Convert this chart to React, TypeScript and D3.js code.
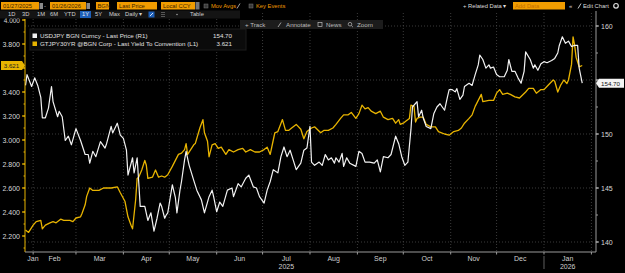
import React from 'react';
import * as d3 from 'd3';

// USDJPY (right axis)
const usdDates = [
  '2025-01-27', '2025-01-28', '2025-01-31', '2025-02-02', '2025-02-04', '2025-02-06', '2025-02-07', '2025-02-09',
  '2025-02-11', '2025-02-13', '2025-02-14', '2025-02-17', '2025-02-18', '2025-02-20', '2025-02-22', '2025-02-24',
  '2025-02-26', '2025-03-01', '2025-03-04', '2025-03-07', '2025-03-09', '2025-03-10', '2025-03-12', '2025-03-14',
  '2025-03-17', '2025-03-20', '2025-03-21', '2025-03-24', '2025-03-25', '2025-03-28', '2025-03-30', '2025-04-01',
  '2025-04-03', '2025-04-04', '2025-04-07', '2025-04-08', '2025-04-10', '2025-04-11', '2025-04-12', '2025-04-15',
  '2025-04-17', '2025-04-19', '2025-04-21', '2025-04-23', '2025-04-25', '2025-04-26', '2025-04-28', '2025-04-29',
  '2025-04-30', '2025-05-03', '2025-05-05', '2025-05-06', '2025-05-08', '2025-05-09', '2025-05-11', '2025-05-12',
  '2025-05-14', '2025-05-17', '2025-05-19', '2025-05-22', '2025-05-24', '2025-05-27', '2025-05-29', '2025-05-30',
  '2025-06-01', '2025-06-03', '2025-06-05', '2025-06-08', '2025-06-11', '2025-06-12', '2025-06-15', '2025-06-17',
  '2025-06-20', '2025-06-22', '2025-06-25', '2025-06-27', '2025-06-29', '2025-07-02', '2025-07-04', '2025-07-06',
  '2025-07-08', '2025-07-11', '2025-07-13', '2025-07-15', '2025-07-17', '2025-07-19', '2025-07-21', '2025-07-23',
  '2025-07-26', '2025-07-28', '2025-07-30', '2025-08-01', '2025-08-02', '2025-08-04', '2025-08-07', '2025-08-09',
  '2025-08-11', '2025-08-13', '2025-08-15', '2025-08-17', '2025-08-18', '2025-08-20', '2025-08-22', '2025-08-23',
  '2025-08-25', '2025-08-27', '2025-08-31', '2025-09-02', '2025-09-04', '2025-09-06', '2025-09-09', '2025-09-12',
  '2025-09-14', '2025-09-16', '2025-09-18', '2025-09-21', '2025-09-23', '2025-09-26', '2025-09-28', '2025-09-30',
  '2025-10-02', '2025-10-04', '2025-10-06', '2025-10-07', '2025-10-10', '2025-10-11', '2025-10-13', '2025-10-14',
  '2025-10-16', '2025-10-19', '2025-10-21', '2025-10-23', '2025-10-25', '2025-10-28', '2025-10-30', '2025-10-31',
  '2025-11-02', '2025-11-04', '2025-11-05', '2025-11-07', '2025-11-09', '2025-11-10', '2025-11-13', '2025-11-15',
  '2025-11-17', '2025-11-19', '2025-11-20', '2025-11-22', '2025-11-24', '2025-11-26', '2025-11-27', '2025-11-29',
  '2025-12-01', '2025-12-03', '2025-12-06', '2025-12-08', '2025-12-09', '2025-12-11', '2025-12-13', '2025-12-15',
  '2025-12-17', '2025-12-19', '2025-12-20', '2025-12-23', '2025-12-25', '2025-12-26', '2025-12-28', '2025-12-30',
  '2026-01-01', '2026-01-03', '2026-01-06', '2026-01-08', '2026-01-10', '2026-01-11', '2026-01-13', '2026-01-15',
  '2026-01-17', '2026-01-19', '2026-01-21', '2026-01-23', '2026-01-24', '2026-01-26',
];
const usdPrice = [
  154.5, 155.5, 154.4, 155.2, 154.5, 153.4, 151.5, 151.5,
  152.4, 154.4, 153.0, 151.6, 152.1, 151.6, 149.4, 149.8,
  149.0, 150.5, 149.4, 148.1, 148.1, 147.3, 148.4, 147.9,
  149.3, 148.7, 149.1, 150.7, 150.1, 151.0, 149.9, 149.6,
  148.5, 146.2, 147.8, 146.4, 147.8, 145.6, 143.3, 143.3,
  142.0, 142.7, 141.0, 142.2, 143.6, 143.3, 142.2, 142.5,
  142.7, 145.3, 144.1, 142.7, 144.8, 145.6, 147.6, 148.4,
  147.1, 145.7, 144.8, 143.9, 142.7, 144.2, 144.8, 144.2,
  142.8, 143.7, 143.3, 144.8, 145.0, 144.2, 145.4, 145.1,
  145.9, 146.2, 145.1, 145.0, 144.2, 143.6, 144.8, 145.6,
  146.7, 146.4, 147.9, 148.8, 147.9, 148.5, 147.6, 146.7,
  147.3, 148.5, 148.7, 150.7, 147.4, 147.1, 147.4, 147.1,
  148.1, 147.6, 147.8, 147.3, 147.8, 147.4, 148.2, 147.0,
  147.8, 147.3, 147.0, 148.4, 148.2, 147.4, 147.4, 147.3,
  147.6, 146.5, 147.9, 147.8, 148.1, 149.8, 149.1, 147.9,
  147.1, 147.4, 150.4, 152.5, 153.0, 151.6, 152.2, 151.5,
  150.7, 150.5, 151.9, 152.5, 152.8, 152.2, 153.5, 154.1,
  154.1, 153.9, 154.2, 153.2, 153.6, 154.4, 154.7, 154.5,
  155.5, 156.4, 157.3, 156.9, 156.1, 156.4, 156.1, 156.2,
  155.5, 155.3, 155.3, 155.9, 156.9, 155.8, 155.8, 155.2,
  154.7, 155.8, 157.6, 156.9, 156.1, 156.4, 155.9, 156.5,
  156.7, 156.6, 156.8, 157.0, 157.5, 158.2, 159.0, 158.4,
  158.6, 158.1, 158.2, 158.2, 156.1, 154.7,
];

// JGB 30Y yield (left axis)
const jgbDates = [
  '2025-01-27', '2025-01-29', '2025-02-01', '2025-02-03', '2025-02-06', '2025-02-07', '2025-02-09', '2025-02-12',
  '2025-02-14', '2025-02-16', '2025-02-19', '2025-02-21', '2025-02-23', '2025-02-25', '2025-02-27', '2025-03-01',
  '2025-03-04', '2025-03-05', '2025-03-07', '2025-03-08', '2025-03-10', '2025-03-12', '2025-03-16', '2025-03-19',
  '2025-03-22', '2025-03-24', '2025-03-28', '2025-03-30', '2025-04-02', '2025-04-04', '2025-04-06', '2025-04-07',
  '2025-04-09', '2025-04-10', '2025-04-11', '2025-04-13', '2025-04-15', '2025-04-16', '2025-04-17', '2025-04-20',
  '2025-04-22', '2025-04-24', '2025-04-26', '2025-04-28', '2025-04-30', '2025-05-03', '2025-05-05', '2025-05-07',
  '2025-05-09', '2025-05-11', '2025-05-12', '2025-05-13', '2025-05-15', '2025-05-17', '2025-05-18', '2025-05-21',
  '2025-05-23', '2025-05-24', '2025-05-26', '2025-05-27', '2025-05-29', '2025-05-31', '2025-06-02', '2025-06-04',
  '2025-06-05', '2025-06-07', '2025-06-09', '2025-06-12', '2025-06-15', '2025-06-18', '2025-06-20', '2025-06-23',
  '2025-06-26', '2025-06-29', '2025-07-02', '2025-07-04', '2025-07-06', '2025-07-08', '2025-07-09', '2025-07-11',
  '2025-07-14', '2025-07-16', '2025-07-18', '2025-07-20', '2025-07-23', '2025-07-26', '2025-07-28', '2025-07-30',
  '2025-08-02', '2025-08-04', '2025-08-08', '2025-08-10', '2025-08-13', '2025-08-16', '2025-08-18', '2025-08-21',
  '2025-08-23', '2025-08-26', '2025-08-28', '2025-08-31', '2025-09-02', '2025-09-04', '2025-09-06', '2025-09-08',
  '2025-09-10', '2025-09-13', '2025-09-16', '2025-09-18', '2025-09-21', '2025-09-24', '2025-09-26', '2025-09-28',
  '2025-09-29', '2025-10-01', '2025-10-03', '2025-10-05', '2025-10-06', '2025-10-08', '2025-10-09', '2025-10-10',
  '2025-10-12', '2025-10-14', '2025-10-16', '2025-10-19', '2025-10-22', '2025-10-24', '2025-10-26', '2025-10-28',
  '2025-10-31', '2025-11-03', '2025-11-06', '2025-11-08', '2025-11-10', '2025-11-13', '2025-11-15', '2025-11-17',
  '2025-11-19', '2025-11-21', '2025-11-22', '2025-11-26', '2025-11-29', '2025-12-01', '2025-12-03', '2025-12-05',
  '2025-12-08', '2025-12-10', '2025-12-13', '2025-12-16', '2025-12-20', '2025-12-22', '2025-12-25', '2025-12-27',
  '2025-12-30', '2026-01-01', '2026-01-04', '2026-01-07', '2026-01-08', '2026-01-10', '2026-01-12', '2026-01-14',
  '2026-01-16', '2026-01-17', '2026-01-19', '2026-01-20', '2026-01-21', '2026-01-22', '2026-01-24', '2026-01-26',
];
const jgbYield = [
  2.25, 2.23, 2.29, 2.32, 2.33, 2.26, 2.29, 2.31,
  2.32, 2.31, 2.34, 2.33, 2.33, 2.33, 2.32, 2.35,
  2.36, 2.39, 2.46, 2.53, 2.60, 2.58, 2.58, 2.60,
  2.60, 2.60, 2.61, 2.56, 2.49, 2.36, 2.29, 2.26,
  2.50, 2.68, 2.69, 2.75, 2.83, 2.79, 2.68, 2.69,
  2.75, 2.69, 2.70, 2.69, 2.71, 2.78, 2.83, 2.88,
  2.89, 2.92, 2.97, 2.88, 2.92, 2.96, 2.97, 3.10,
  3.17, 3.06, 2.99, 2.86, 2.96, 2.97, 2.93, 2.94,
  2.92, 2.88, 2.92, 2.90, 2.92, 2.93, 2.90, 2.92,
  2.90, 2.90, 2.92, 2.94, 2.88, 3.00, 3.06, 3.07,
  3.17, 3.08, 3.08, 3.10, 3.13, 3.09, 3.01, 3.07,
  3.10, 3.11, 3.06, 3.08, 3.08, 3.10, 3.13, 3.18,
  3.21, 3.21, 3.23, 3.18, 3.22, 3.29, 3.26, 3.27,
  3.24, 3.22, 3.24, 3.19, 3.17, 3.18, 3.14, 3.17,
  3.13, 3.14, 3.16, 3.18, 3.29, 3.28, 3.15, 3.18,
  3.19, 3.19, 3.13, 3.11, 3.11, 3.07, 3.06, 3.05,
  3.04, 3.07, 3.08, 3.10, 3.14, 3.18, 3.21, 3.28,
  3.33, 3.38, 3.32, 3.33, 3.33, 3.39, 3.42, 3.38,
  3.39, 3.38, 3.36, 3.35, 3.40, 3.43, 3.43, 3.39,
  3.42, 3.42, 3.46, 3.50, 3.49, 3.40, 3.46, 3.50,
  3.47, 3.50, 3.63, 3.86, 3.79, 3.69, 3.61, 3.621,
];

const leftTicks = [2.2, 2.4, 2.6, 2.8, 3.0, 3.2, 3.4, 3.6, 3.8, 4.0];
const rightTicks = [140, 145, 150, 155, 160];
const monthNames = ['Jan', 'Feb', 'Mar', 'Apr', 'May', 'Jun', 'Jul', 'Aug', 'Sep', 'Oct', 'Nov', 'Dec'];

const W = 625;
const H = 273;
const YELLOW = '#e8b400';
const FONT = '"Liberation Sans", Arial, sans-serif';

const App = () => {
  const parse = d3.timeParse('%Y-%m-%d');
  const x = d3.scaleTime()
    .domain([parse('2025-01-27') as Date, parse('2026-02-04') as Date])
    .range([25.5, 596]);
  const yL = d3.scaleLinear().domain([2.2, 4.0]).range([236, 20]);
  const yR = d3.scaleLinear().domain([140, 160]).range([242, 26]);

  const plotTop = 19;
  const plotBottom = 252;
  const left = 25;
  const right = 596;

  const usd = usdDates.map((d, i) => ({ date: parse(d) as Date, v: usdPrice[i] }));
  const jgb = jgbDates.map((d, i) => ({ date: parse(d) as Date, v: jgbYield[i] }));

  const usdLine = d3.line<{ date: Date; v: number }>().x(d => x(d.date)).y(d => yR(d.v));
  const jgbLine = d3.line<{ date: Date; v: number }>().x(d => x(d.date)).y(d => yL(d.v));

  const [d0, d1] = x.domain();
  const monthStarts = d3.timeMonth.range(d3.timeMonth.ceil(d0), d1);
  const monthLabels = d3.timeMonth.range(d3.timeMonth.floor(d0), d1)
    .filter(m => x(m) < right - 12)
    .map(m => {
      const a = Math.max(x(m), left);
      const b = x(d3.timeMonth.offset(m, 1));
      return { m, cx: Math.max((a + b) / 2, left + 8) };
    });

  const leftMinor = d3.range(2.1, 4.05, 0.1);
  const rightMinor = d3.range(140, 161, 2.5);

  const lastUsd = usdPrice[usdPrice.length - 1];
  const lastJgb = jgbYield[jgbYield.length - 1];
  const tagL = yL(lastJgb);
  const tagR = yR(lastUsd);

  const txt = { fontFamily: FONT, fontSize: 7 } as const;
  const small = { fontFamily: FONT, fontSize: 6.2 } as const;
  const tiny = { fontFamily: FONT, fontSize: 5.8 } as const;

  return (
    <div style={{ position: 'absolute', left: 0, top: 0, width: W, height: H, background: '#000' }}>
      <svg width={W} height={H} style={{ display: 'block' }}>
        <rect width={W} height={H} fill="#000" />

        {/* grid */}
        {monthStarts.map((m, i) => (
          <line key={'vg' + i} x1={x(m)} x2={x(m)} y1={plotTop - 6} y2={plotBottom}
            stroke="#4a4a4a" strokeWidth={0.8} strokeDasharray="1,2" />
        ))}
        {rightTicks.map(t => (
          <line key={'hg' + t} x1={left} x2={right} y1={yR(t)} y2={yR(t)}
            stroke="#4a4a4a" strokeWidth={0.8} strokeDasharray="1,2" />
        ))}

        {/* series */}
        <path d={jgbLine(jgb) || ''} fill="none" stroke={YELLOW} strokeWidth={1.3} strokeLinejoin="round" />
        <path d={usdLine(usd) || ''} fill="none" stroke="#f2f2f2" strokeWidth={1.2} strokeLinejoin="round" />

        {/* left axis */}
        <line x1={left} x2={left} y1={plotTop} y2={plotBottom} stroke={YELLOW} strokeWidth={1} />
        {leftMinor.map((t, i) => (
          <line key={'lm' + i} x1={left - 1.5} x2={left} y1={yL(t)} y2={yL(t)} stroke={YELLOW} strokeWidth={1} />
        ))}
        {leftTicks.map(t => (
          <g key={'lt' + t}>
            <line x1={left - 3} x2={left} y1={yL(t)} y2={yL(t)} stroke={YELLOW} strokeWidth={1.2} />
            {Math.abs(yL(t) - tagL) > 9 && (
              <text x={left - 5} y={yL(t) + (t === 4.0 ? 3.4 : 2.5)} textAnchor="end" fill="#d8d8d8"
                fontFamily={FONT} fontSize={t === 4.0 ? 6.5 : 7}>{d3.format('.3f')(t)}</text>
            )}
          </g>
        ))}

        {/* right axis */}
        <line x1={right} x2={right} y1={plotTop - 8} y2={plotBottom} stroke="#9a9a9a" strokeWidth={1} />
        {rightMinor.map((t, i) => (
          <line key={'rm' + i} x1={right} x2={right + 2} y1={yR(t)} y2={yR(t)} stroke="#9a9a9a" strokeWidth={1} />
        ))}
        {rightTicks.map(t => (
          <g key={'rt' + t}>
            <line x1={right} x2={right + 3} y1={yR(t)} y2={yR(t)} stroke="#bbb" strokeWidth={1} />
            {Math.abs(yR(t) - tagR) > 9 && (
              <text x={right + 5} y={yR(t) + 2.5} fill="#d8d8d8" {...txt}>{t}</text>
            )}
          </g>
        ))}

        {/* x axis */}
        <line x1={left} x2={right} y1={plotBottom} y2={plotBottom} stroke="#9a9a9a" strokeWidth={1} />
        {monthStarts.map((m, i) => (
          <line key={'xt' + i} x1={x(m)} x2={x(m)} y1={plotBottom} y2={plotBottom + 2.5} stroke="#9a9a9a" strokeWidth={1} />
        ))}
        {monthLabels.map(({ m, cx }, i) => (
          <text key={'xl' + i} x={cx} y={plotBottom + 8.5} textAnchor="middle" fill="#cfcfcf" {...txt}>
            {monthNames[m.getMonth()]}
          </text>
        ))}
        {monthLabels.filter(({ m }) => m.getMonth() === 6 && m.getFullYear() === 2025).map(({ cx }) => (
          <text key="y25" x={cx} y={plotBottom + 16.5} textAnchor="middle" fill="#cfcfcf" {...txt}>2025</text>
        ))}
        {monthLabels.filter(({ m }) => m.getMonth() === 0 && m.getFullYear() === 2026).map(({ m, cx }) => (
          <g key="y26">
            <line x1={x(m)} x2={x(m)} y1={plotBottom + 4} y2={plotBottom + 17} stroke="#777" strokeWidth={0.8} />
            <text x={cx} y={plotBottom + 16.5} textAnchor="middle" fill="#cfcfcf" {...txt}>2026</text>
          </g>
        ))}

        {/* last value tags */}
        <path d={`M1,${tagL - 4.5} H22 L${left},${tagL} L22,${tagL + 4.5} H1 Z`} fill={YELLOW} />
        <text x={11.5} y={tagL + 2.3} textAnchor="middle" fill="#222" {...small}>{d3.format('.3f')(lastJgb)}</text>
        <path d={`M${right},${tagR} L${right + 3},${tagR - 4.5} H624 V${tagR + 4.5} H${right + 3} Z`} fill="#f4f4f4" />
        <text x={610.5} y={tagR + 2.3} textAnchor="middle" fill="#111" {...small}>{d3.format('.2f')(lastUsd)}</text>

        {/* legend */}
        <rect x={30} y={29} width={216} height={21} fill="#0b0b0b" stroke="#1c1c1c" />
        <rect x={32.5} y={33.5} width={4.5} height={4.5} fill="#f2f2f2" />
        <text x={40} y={38} fill="#e0e0e0" {...small}>USDJPY BGN Curncy - Last Price (R1)</text>
        <text x={232} y={38} textAnchor="end" fill="#e0e0e0" {...small}>{d3.format('.2f')(lastUsd)}</text>
        <rect x={32.5} y={41.5} width={4.5} height={4.5} fill={YELLOW} />
        <text x={40} y={46} fill="#e0e0e0" {...small}>GTJPY30YR @BGN Corp - Last Yield To Convention (L1)</text>
        <text x={232} y={46} textAnchor="end" fill="#e0e0e0" {...small}>{d3.format('.3f')(lastJgb)}</text>

        {/* toolbar row 1 */}
        <rect x={1} y={2} width={38} height={7.5} fill="#f09c00" />
        <text x={3} y={7.8} fill="#3a2400" {...tiny}>01/27/2025</text>
        <rect x={39.5} y={3} width={3.5} height={6} fill="#8a8a8a" />
        <text x={44} y={7.8} fill="#ccc" {...tiny}>-</text>
        <rect x={50} y={2} width={36} height={7.5} fill="#f09c00" />
        <text x={52} y={7.8} fill="#3a2400" {...tiny}>01/26/2026</text>
        <rect x={86.5} y={3} width={3.5} height={6} fill="#8a8a8a" />
        <rect x={96} y={2} width={13} height={7.5} fill="#f09c00" />
        <text x={97.5} y={7.8} fill="#3a2400" {...tiny}>BGN</text>
        <rect x={117} y={2} width={40} height={7.5} fill="#f09c00" />
        <text x={119} y={7.8} fill="#3a2400" {...tiny}>Last Price</text>
        <rect x={161} y={2} width={34} height={7.5} fill="#f09c00" />
        <text x={163} y={7.8} fill="#3a2400" {...tiny}>Local CCY</text>
        <rect x={195.5} y={2} width={4} height={7.5} fill="#777" />
        <rect x={204} y={4} width={4} height={4} fill="#3a3a3a" stroke="#777" strokeWidth={0.5} />
        <text x={211} y={7.8} fill="#f09c00" {...tiny}>Mov Avgs</text>
        <line x1={237} x2={240} y1={8.5} y2={3.5} stroke="#ccc" strokeWidth={0.8} />
        <rect x={249} y={4} width={4} height={4} fill="#3a3a3a" stroke="#777" strokeWidth={0.5} />
        <text x={256} y={7.8} fill="#f09c00" {...tiny}>Key Events</text>

        <text x={463} y={7.8} fill="#ddd" {...tiny}>+ Related Data ▾</text>
        <rect x={513} y={2} width={52} height={7.5} fill="#f09c00" />
        <text x={515} y={7.8} fill="#c26e00" {...tiny}>Add Data</text>
        <text x={569} y={7.8} fill="#ddd" {...tiny}>«</text>
        <line x1={578} x2={581} y1={8.5} y2={3.5} stroke="#ddd" strokeWidth={0.9} />
        <text x={583} y={7.8} fill="#ddd" {...tiny}>Edit Chart</text>
        <circle cx={616} cy={5.8} r={2.3} fill="none" stroke="#ddd" strokeWidth={1.2} />

        {/* toolbar row 2 */}
        <rect x={0} y={10.5} width={240} height={8} fill="#141414" />
        {[['1D', 8], ['3D', 22], ['1M', 37], ['6M', 50], ['YTD', 64], ['5Y', 95], ['Max', 109], ['Daily ▾', 125], ['Table', 190]].map(([s, px]) => (
          <text key={'b' + s} x={px as number} y={16.3} fill="#d0d0d0" {...tiny}>{s}</text>
        ))}
        <rect x={80} y={11} width={11} height={7} fill="#1d5fb8" />
        <text x={82} y={16.3} fill="#eee" {...tiny}>1Y</text>
        <rect x={148.5} y={11.5} width={6} height={6} fill="#1d5fb8" />
        <line x1={150} x2={153} y1={16} y2={13} stroke="#fff" strokeWidth={0.8} />
        <line x1={162} x2={162} y1={12} y2={17} stroke="#bbb" strokeWidth={0.8} strokeDasharray="1,1" />
        <line x1={164} x2={164} y1={12} y2={17} stroke="#bbb" strokeWidth={0.8} strokeDasharray="1,1" />
        <circle cx={177} cy={14.5} r={0.7} fill="#bbb" />

        {/* toolbar row 3 */}
        <rect x={240} y={20} width={143} height={9} fill="#1c1c1c" />
        <text x={245} y={26.8} fill="#bcbcbc" {...small}>+ Track</text>
        <line x1={278} x2={281} y1={27} y2={22.5} stroke="#bcbcbc" strokeWidth={0.8} />
        <text x={286} y={26.8} fill="#bcbcbc" {...small}>Annotate</text>
        <rect x={318} y={22.5} width={4} height={4} fill="none" stroke="#bcbcbc" strokeWidth={0.7} />
        <text x={326} y={26.8} fill="#bcbcbc" {...small}>News</text>
        <circle cx={350} cy={24.2} r={1.8} fill="none" stroke="#bcbcbc" strokeWidth={0.7} />
        <line x1={351.3} x2={353} y1={25.5} y2={27.2} stroke="#bcbcbc" strokeWidth={0.7} />
        <text x={357} y={26.8} fill="#bcbcbc" {...small}>Zoom</text>
      </svg>
    </div>
  );
};

export default App;
